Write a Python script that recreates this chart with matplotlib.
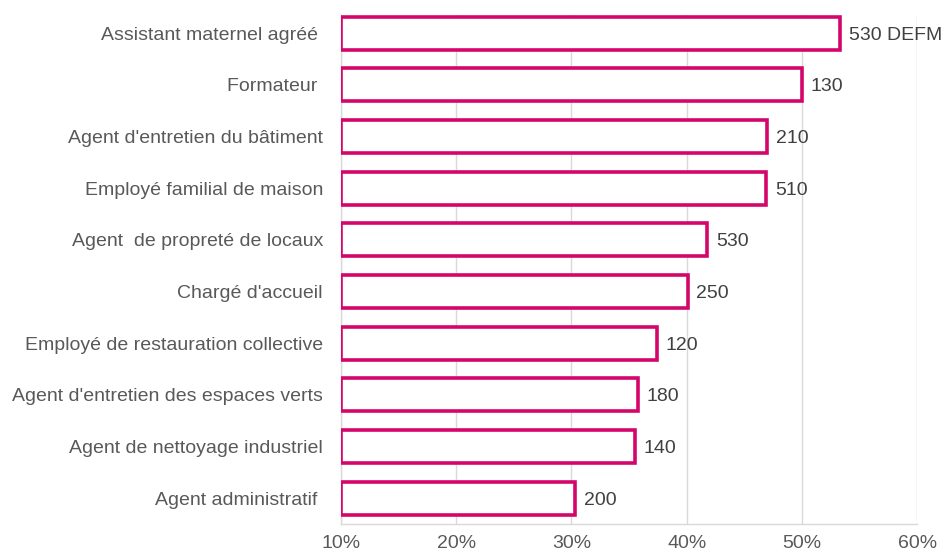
import matplotlib.pyplot as plt
from matplotlib.ticker import FuncFormatter

plt.rcParams['font.family'] = ['Liberation Sans', 'DejaVu Sans']

jobs = ["Assistant maternel agréé ", "Formateur ", "Agent d'entretien du bâtiment",
        "Employé familial de maison", "Agent  de propreté de locaux", "Chargé d'accueil",
        "Employé de restauration collective", "Agent d'entretien des espaces verts",
        "Agent de nettoyage industriel", "Agent administratif "]
rates = [53.3, 50.0, 47.0, 46.9, 41.8, 40.1, 37.4, 35.8, 35.5, 30.3]
labels = ["530 DEFM", "130", "210", "510", "530", "250", "120", "180", "140", "200"]
ticks = [10, 20, 30, 40, 50, 60]

pink = '#D4066B'

fig = plt.figure(figsize=(9.46, 5.53), dpi=100)
ax = fig.add_axes([0.3605, 0.0525, 0.609, 0.9204])

y = range(len(jobs))
ax.barh(y, [r - 10 for r in rates], left=10, height=0.64,
        color='white', edgecolor=pink, linewidth=2.6, zorder=3)

for i, (r, lab) in enumerate(zip(rates, labels)):
    ax.text(r + 0.75, i, lab, va='center_baseline', ha='left', fontsize=14,
            color='#404040', zorder=4)

ax.set_xlim(10, 60)
ax.set_ylim(9.5, -0.35)
ax.set_xticks(ticks)
ax.xaxis.set_major_formatter(FuncFormatter(lambda v, p: f"{v:.0f}%"))
ax.set_yticks(list(y))
ax.set_yticklabels(jobs)
ax.tick_params(axis='both', length=0, labelsize=14, colors='#595959')
ax.tick_params(axis='y', pad=13)
ax.tick_params(axis='x', pad=8)
ax.grid(axis='x', color='#D9D9D9', linewidth=1, zorder=0)
for s in ['top', 'right']:
    ax.spines[s].set_visible(False)
for s in ['left', 'bottom']:
    ax.spines[s].set_color('#D9D9D9')
    ax.spines[s].set_linewidth(1)

fig.savefig('out.png', dpi=100)
